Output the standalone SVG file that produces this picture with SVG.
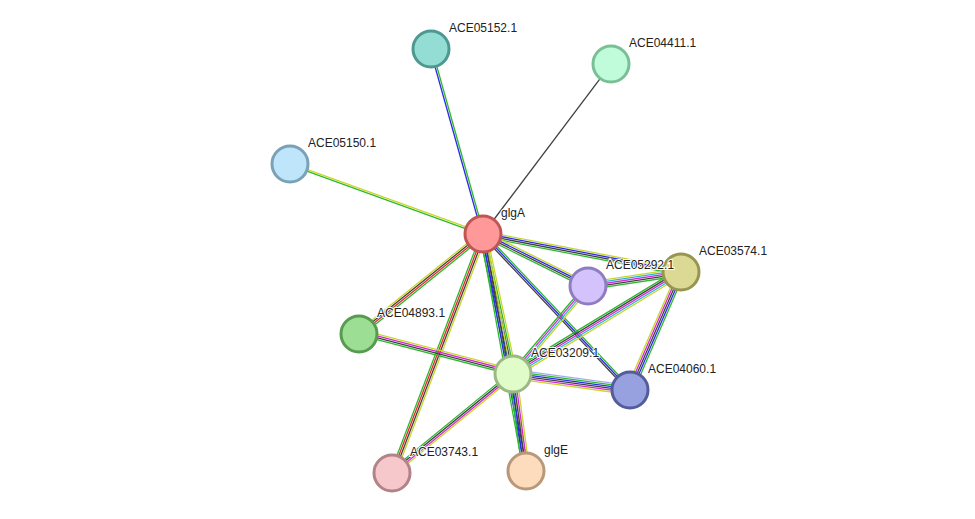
<svg xmlns="http://www.w3.org/2000/svg" width="975" height="519" viewBox="0 0 975 519">
<style>
line{stroke-width:1.3}
.g{stroke:#2db82d}.y{stroke:#c8d62a}.b{stroke:#2a2ae8}.k{stroke:#404040}.r{stroke:#e82a2a}.m{stroke:#d42ad4}.c{stroke:#2ab4d6}.l{stroke:#a8a8f0}
circle{stroke-width:3}
text{font-family:"Liberation Sans",Arial,sans-serif;font-size:12px;fill:#222;paint-order:stroke;stroke:#fff;stroke-width:2px}
</style>
<rect width="975" height="519" fill="#fff"/>
<g id="edges">
<g transform="translate(483,234) rotate(-105.7)"><line class="b" x1="0" y1="-0.9" x2="192.2" y2="-0.9"/><line class="g" x1="0" y1="0.9" x2="192.2" y2="0.9"/></g>
<g transform="translate(483,234) rotate(-53)"><line class="k" x1="0" y1="0" x2="212.8" y2="0"/></g>
<g transform="translate(483,234) rotate(-160.1)"><line class="g" x1="0" y1="-0.9" x2="205.3" y2="-0.9"/><line class="y" x1="0" y1="0.9" x2="205.3" y2="0.9"/></g>
<g transform="translate(483,234) rotate(10.9)"><line class="y" x1="0" y1="-2.7" x2="201.6" y2="-2.7"/><line class="b" x1="0" y1="-0.9" x2="201.6" y2="-0.9"/><line class="k" x1="0" y1="0.9" x2="201.6" y2="0.9"/><line class="g" x1="0" y1="2.7" x2="201.6" y2="2.7"/></g>
<g transform="translate(483,234) rotate(26.3)"><line class="y" x1="0" y1="-2.7" x2="117.2" y2="-2.7"/><line class="b" x1="0" y1="-0.9" x2="117.2" y2="-0.9"/><line class="k" x1="0" y1="0.9" x2="117.2" y2="0.9"/><line class="g" x1="0" y1="2.7" x2="117.2" y2="2.7"/></g>
<g transform="translate(483,234) rotate(46.7)"><line class="g" x1="0" y1="-1.8" x2="214.4" y2="-1.8"/><line class="b" x1="0" y1="0" x2="214.4" y2="0"/><line class="k" x1="0" y1="1.8" x2="214.4" y2="1.8"/></g>
<g transform="translate(483,234) rotate(77.9)"><line class="y" x1="0" y1="-3.6" x2="143.2" y2="-3.6"/><line class="g" x1="0" y1="-1.8" x2="143.2" y2="-1.8"/><line class="k" x1="0" y1="0" x2="143.2" y2="0"/><line class="b" x1="0" y1="1.8" x2="143.2" y2="1.8"/><line class="g" x1="0" y1="3.6" x2="143.2" y2="3.6"/></g>
<g transform="translate(483,234) rotate(141.1)"><line class="g" x1="0" y1="-2.7" x2="159.3" y2="-2.7"/><line class="r" x1="0" y1="-0.9" x2="159.3" y2="-0.9"/><line class="k" x1="0" y1="0.9" x2="159.3" y2="0.9"/><line class="y" x1="0" y1="2.7" x2="159.3" y2="2.7"/></g>
<g transform="translate(483,234) rotate(110.8)"><line class="y" x1="0" y1="-3.6" x2="255.7" y2="-3.6"/><line class="k" x1="0" y1="-1.8" x2="255.7" y2="-1.8"/><line class="r" x1="0" y1="0" x2="255.7" y2="0"/><line class="g" x1="0" y1="1.8" x2="255.7" y2="1.8"/></g>
<g transform="translate(483,234) rotate(79.7)"><line class="y" x1="0" y1="-2.7" x2="240.9" y2="-2.7"/><line class="k" x1="0" y1="-0.9" x2="240.9" y2="-0.9"/><line class="b" x1="0" y1="0.9" x2="240.9" y2="0.9"/><line class="g" x1="0" y1="2.7" x2="240.9" y2="2.7"/></g>
<g transform="translate(588,286) rotate(-8.6)"><line class="y" x1="0" y1="-3.6" x2="94" y2="-3.6"/><line class="c" x1="0" y1="-1.8" x2="94" y2="-1.8"/><line class="m" x1="0" y1="0" x2="94" y2="0"/><line class="k" x1="0" y1="1.8" x2="94" y2="1.8"/><line class="g" x1="0" y1="3.6" x2="94" y2="3.6"/></g>
<g transform="translate(588,286) rotate(130.4)"><line class="y" x1="0" y1="-2.7" x2="115.6" y2="-2.7"/><line class="c" x1="0" y1="-0.9" x2="115.6" y2="-0.9"/><line class="m" x1="0" y1="0.9" x2="115.6" y2="0.9"/><line class="g" x1="0" y1="2.7" x2="115.6" y2="2.7"/></g>
<g transform="translate(513,374) rotate(-31.3)"><line class="g" x1="0" y1="-3.6" x2="196.5" y2="-3.6"/><line class="k" x1="0" y1="-1.8" x2="196.5" y2="-1.8"/><line class="m" x1="0" y1="0" x2="196.5" y2="0"/><line class="c" x1="0" y1="1.8" x2="196.5" y2="1.8"/><line class="y" x1="0" y1="3.6" x2="196.5" y2="3.6"/></g>
<g transform="translate(630,390) rotate(-66.6)"><line class="y" x1="0" y1="-3.6" x2="128.5" y2="-3.6"/><line class="m" x1="0" y1="-1.8" x2="128.5" y2="-1.8"/><line class="k" x1="0" y1="0" x2="128.5" y2="0"/><line class="b" x1="0" y1="1.8" x2="128.5" y2="1.8"/><line class="g" x1="0" y1="3.6" x2="128.5" y2="3.6"/></g>
<g transform="translate(513,374) rotate(7.8)"><line class="l" x1="0" y1="-4.5" x2="118.1" y2="-4.5"/><line class="g" x1="0" y1="-2.7" x2="118.1" y2="-2.7"/><line class="b" x1="0" y1="-0.9" x2="118.1" y2="-0.9"/><line class="k" x1="0" y1="0.9" x2="118.1" y2="0.9"/><line class="m" x1="0" y1="2.7" x2="118.1" y2="2.7"/><line class="y" x1="0" y1="4.5" x2="118.1" y2="4.5"/></g>
<g transform="translate(359,334) rotate(14.6)"><line class="m" x1="0" y1="-2.7" x2="159.1" y2="-2.7"/><line class="y" x1="0" y1="-4.5" x2="159.1" y2="-4.5"/><line class="k" x1="0" y1="-0.9" x2="159.1" y2="-0.9"/><line class="g" x1="0" y1="0.9" x2="159.1" y2="0.9"/></g>
<g transform="translate(513,374) rotate(140.7)"><line class="y" x1="0" y1="-2.7" x2="156.3" y2="-2.7"/><line class="m" x1="0" y1="-0.9" x2="156.3" y2="-0.9"/><line class="k" x1="0" y1="0.9" x2="156.3" y2="0.9"/><line class="g" x1="0" y1="2.7" x2="156.3" y2="2.7"/></g>
<g transform="translate(513,374) rotate(82.4)"><line class="y" x1="0" y1="-3.6" x2="97.9" y2="-3.6"/><line class="m" x1="0" y1="-1.8" x2="97.9" y2="-1.8"/><line class="k" x1="0" y1="0" x2="97.9" y2="0"/><line class="b" x1="0" y1="1.8" x2="97.9" y2="1.8"/><line class="g" x1="0" y1="3.6" x2="97.9" y2="3.6"/></g>
</g>
<g id="glgA"><circle cx="483" cy="234" r="18" fill="#f99" stroke="#c05555"/><text x="501" y="217">glgA</text></g>
<g id="ACE05152.1"><circle cx="431" cy="49" r="18" fill="#93ddd4" stroke="#4d9990"/><text x="449" y="32">ACE05152.1</text></g>
<g id="ACE04411.1"><circle cx="611" cy="64" r="18" fill="#c0fbda" stroke="#7ac096"/><text x="629" y="47">ACE04411.1</text></g>
<g id="ACE05150.1"><circle cx="290" cy="164" r="18" fill="#bee5fa" stroke="#7aa1b6"/><text x="308" y="147">ACE05150.1</text></g>
<g id="ACE03574.1"><circle cx="681" cy="272" r="18" fill="#dcd995" stroke="#989551"/><text x="699" y="255">ACE03574.1</text></g>
<g id="ACE05292.1"><circle cx="588" cy="286" r="18" fill="#d3c2fb" stroke="#8f7ebf"/><text x="606" y="269">ACE05292.1</text></g>
<g id="ACE04893.1"><circle cx="359" cy="334" r="18" fill="#9cde94" stroke="#589a50"/><text x="377" y="317">ACE04893.1</text></g>
<g id="ACE03209.1"><circle cx="513" cy="374" r="18" fill="#e0fcc8" stroke="#9cb884"/><text x="531" y="357">ACE03209.1</text></g>
<g id="ACE04060.1"><circle cx="630" cy="390" r="18" fill="#97a1df" stroke="#535d9b"/><text x="648" y="373">ACE04060.1</text></g>
<g id="ACE03743.1"><circle cx="392" cy="473" r="18" fill="#f6c7cb" stroke="#b28387"/><text x="410" y="456">ACE03743.1</text></g>
<g id="glgE"><circle cx="526" cy="471" r="18" fill="#fddcbd" stroke="#b99879"/><text x="544" y="454">glgE</text></g>
</svg>
